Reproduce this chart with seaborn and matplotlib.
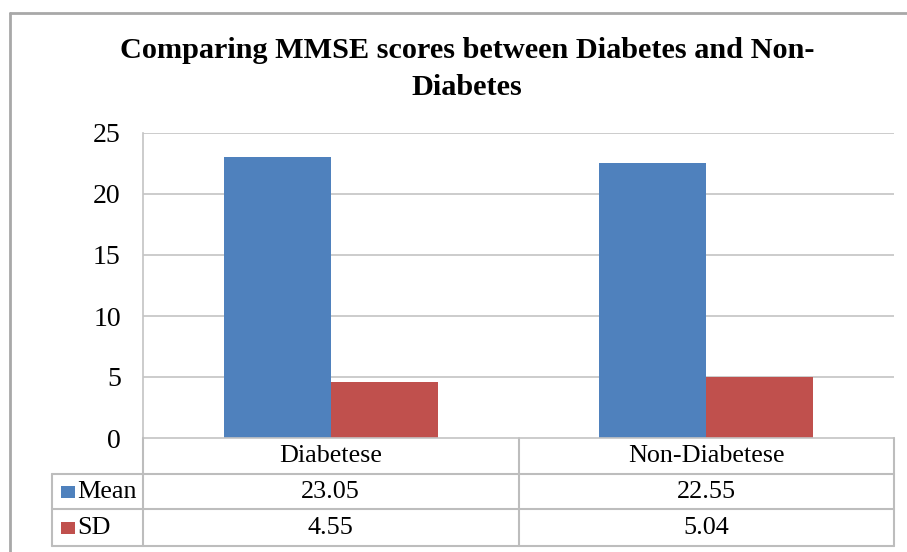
import matplotlib
matplotlib.use("Agg")
import matplotlib.pyplot as plt
import matplotlib.transforms as mtransforms
from matplotlib.lines import Line2D
from matplotlib.patches import Rectangle
import seaborn as sns
import pandas as pd

# ---- data ----
categories = ["Diabetese", "Non-Diabetese"]
series_names = ["Mean", "SD"]
mean_values = [23.05, 22.55]
sd_values = [4.55, 5.04]
y_ticks = [0, 5, 10, 15, 20, 25]
title_text = "Comparing MMSE scores between Diabetes and Non-\nDiabetes"
colors = ["#4F81BD", "#C0504D"]

df = pd.DataFrame({
    "category": categories * 2,
    "series": [series_names[0]] * len(categories) + [series_names[1]] * len(categories),
    "value": mean_values + sd_values,
})

sns.set_style("white")
plt.rcParams["font.family"] = ["Liberation Serif", "DejaVu Serif"]
plt.rcParams["text.color"] = "black"
plt.rcParams["ytick.color"] = "black"
plt.rcParams["ytick.labelcolor"] = "black"

W, H = 907, 552
fig = plt.figure(figsize=(W / 100, H / 100), dpi=100)
fig.patch.set_facecolor("white")

def fx(px):
    return px / W

def fy(py):
    return 1 - py / H

ax_left, ax_right, ax_top, ax_bottom = 143, 894, 133, 438
ax = fig.add_axes([fx(ax_left), fy(ax_bottom), fx(ax_right - ax_left), (ax_bottom - ax_top) / H])

sns.barplot(data=df, x="category", y="value", hue="series", hue_order=series_names,
            order=categories, palette=colors, width=0.57, saturation=1,
            ax=ax, legend=False, edgecolor="none", linewidth=0)

ax.set_ylim(0, 25)
ax.set_xlim(-0.5, len(categories) - 0.5)
ax.set_yticks(y_ticks)
ax.set_yticklabels([str(t) for t in y_ticks], fontsize=20, color="black")
ax.tick_params(axis="y", length=0, pad=16)
ax.set_xticks([])
ax.set_xlabel("")
ax.set_ylabel("")
grid_color = "#C4C4C4"
for t in y_ticks[1:]:
    ax.axhline(t, color=grid_color, lw=1.2, zorder=0)
for s in ["top", "right"]:
    ax.spines[s].set_visible(False)
ax.spines["left"].set_color(grid_color)
ax.spines["left"].set_linewidth(1.2)
ax.spines["bottom"].set_color(grid_color)
ax.spines["bottom"].set_linewidth(1.2)

# title
fig.text(fx(467), fy(69), title_text, ha="center", va="center", fontsize=21.8,
         fontweight="bold", linespacing=1.45, color="black")

# outer frame (top and left)
frame_c = "#A8A8A8"
fig.add_artist(Line2D([fx(10), 1.0], [fy(13), fy(13)], color=frame_c, lw=2))
fig.add_artist(Line2D([fx(10), fx(10)], [fy(13), 0], color=frame_c, lw=2))

# data table
tbl_c = "#BDBDBD"
row_edges = [438, 474, 509, 546]
tbl_left = 52
fs_tbl = 18.8
blend = mtransforms.blended_transform_factory(ax.transData, fig.transFigure)
for ry in row_edges[1:]:
    fig.add_artist(Line2D([fx(tbl_left), fx(ax_right)], [fy(ry), fy(ry)], color=tbl_c, lw=1.5))
fig.add_artist(Line2D([fx(tbl_left), fx(tbl_left)], [fy(row_edges[1]), fy(row_edges[3])], color=tbl_c, lw=1.5))
fig.add_artist(Line2D([fx(ax_left), fx(ax_left)], [fy(row_edges[0]), fy(row_edges[3])], color=tbl_c, lw=1.5))
fig.add_artist(Line2D([fx(ax_right), fx(ax_right)], [fy(row_edges[0]), fy(row_edges[3])], color=tbl_c, lw=1.5))
for i in range(1, len(categories)):
    ax.add_line(Line2D([i - 0.5, i - 0.5], [fy(row_edges[0]), fy(row_edges[3])], color=tbl_c,
                       lw=1.5, transform=blend, clip_on=False))

def row_center(r):
    return fy((row_edges[r] + row_edges[r + 1]) / 2)

for i, cat in enumerate(categories):
    ax.text(i, row_center(0), cat, transform=blend, ha="center", va="center", fontsize=fs_tbl, clip_on=False)
    ax.text(i, row_center(1), f"{mean_values[i]:.2f}", transform=blend, ha="center", va="center", fontsize=fs_tbl, clip_on=False)
    ax.text(i, row_center(2), f"{sd_values[i]:.2f}", transform=blend, ha="center", va="center", fontsize=fs_tbl, clip_on=False)

for r, (name, c) in enumerate(zip(series_names, colors)):
    yc = (row_edges[r + 1] + row_edges[r + 2]) / 2
    fig.add_artist(Rectangle((fx(61), fy(yc + 6)), fx(14), 12 / H, color=c, lw=0))
    fig.text(fx(77), fy(yc), name, ha="left", va="center", fontsize=fs_tbl)

fig.savefig("out.png", dpi=100)
